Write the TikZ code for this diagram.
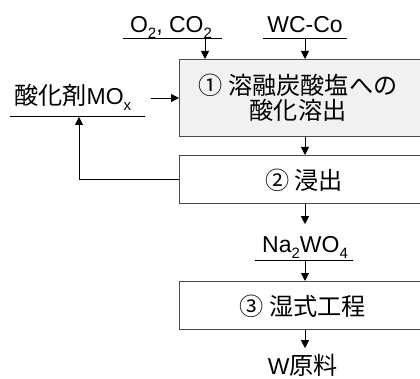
\documentclass[tikz,border=0pt]{standalone}
\usepackage{fontspec}
\setmainfont{Liberation Sans}
\newfontfamily\jp[Scale=1.05]{Noto Sans CJK JP}
\usetikzlibrary{arrows.meta}
\newcommand\lowsub[1]{\raisebox{-0.45ex}{\fontsize{15}{15}\selectfont #1}}
\begin{document}
\begin{tikzpicture}[x=1pt,y=1pt,
  procbox/.style={draw=black!70, line width=1.2pt, minimum width=262pt, anchor=north west, inner sep=0pt},
  arr/.style={line width=0.9pt, -{Triangle[length=8pt,width=8pt]}},
  ul/.style={line width=1pt},
  lbl/.style={inner sep=0pt, font=\fontsize{23}{24.5}\selectfont}]
\useasboundingbox (0,0) rectangle (420,-379);
% process boxes
\node[procbox, fill=black!5, minimum height=77pt] (b1) at (179,-59) {};
\node[procbox, minimum height=48pt] (b2) at (179,-155) {};
\node[procbox, minimum height=48pt] (b3) at (179,-281) {};
% labels inside boxes
\node[lbl, align=center, anchor=center] (t1) at (298,-98) {\jp ① 溶融炭酸塩への\\\jp 酸化溶出};
\node[lbl, anchor=center] (t2) at (304,-180) {\jp ② 浸出};
\node[lbl, anchor=center] (t3) at (303,-306) {\jp ③ 湿式工程};
% input labels
\node[lbl, anchor=base] (o2) at (171,-33) {O\lowsub{2}, CO\lowsub{2}};
\node[lbl, anchor=base] (wc) at (305,-33) {WC-Co};
\node[lbl, anchor=base west] (mo) at (14,-105) {{\jp 酸化剤}MO\lowsub{x}};
\node[lbl, anchor=base] (na) at (305,-253) {Na\lowsub{2}WO\lowsub{4}};
\node[lbl, anchor=center] (w) at (303,-365) {W{\jp 原料}};
% underlines
\coordinate (o2l) at (123,-38.5); \coordinate (o2r) at (222,-38.5);
\coordinate (wcl) at (263,-38.5); \coordinate (wcr) at (347,-38.5);
\coordinate (mol) at (10,-117);   \coordinate (mor) at (145,-117);
\coordinate (nal) at (255,-261);  \coordinate (nar) at (353,-261);
\draw[ul] (o2l) -- (o2r);
\draw[ul] (wcl) -- (wcr);
\draw[ul] (mol) -- (mor);
\draw[ul] (nal) -- (nar);
% arrows
\coordinate (cx) at (305,0);
\coordinate (ox) at (205,0);
\coordinate (fx) at (79,0);
\coordinate (moa) at (151,-98);
\draw[arr] (o2l -| ox) -- (b1.north -| ox);
\draw[arr] (wcl -| cx) -- (b1.north -| cx);
\draw[arr] (moa) -- (moa -| b1.west);
\draw[arr] (b1.south -| cx) -- (b2.north -| cx);
\draw[arr] (b2.south -| cx) -- ([yshift=-20pt]b2.south -| cx);
\draw[arr] (nal -| cx) -- (b3.north -| cx);
\draw[arr] (b3.south -| cx) -- ([yshift=-18pt]b3.south -| cx);
\draw[arr] (b2.west) -- (b2.west -| fx) -- (mol -| fx);
\end{tikzpicture}
\end{document}
